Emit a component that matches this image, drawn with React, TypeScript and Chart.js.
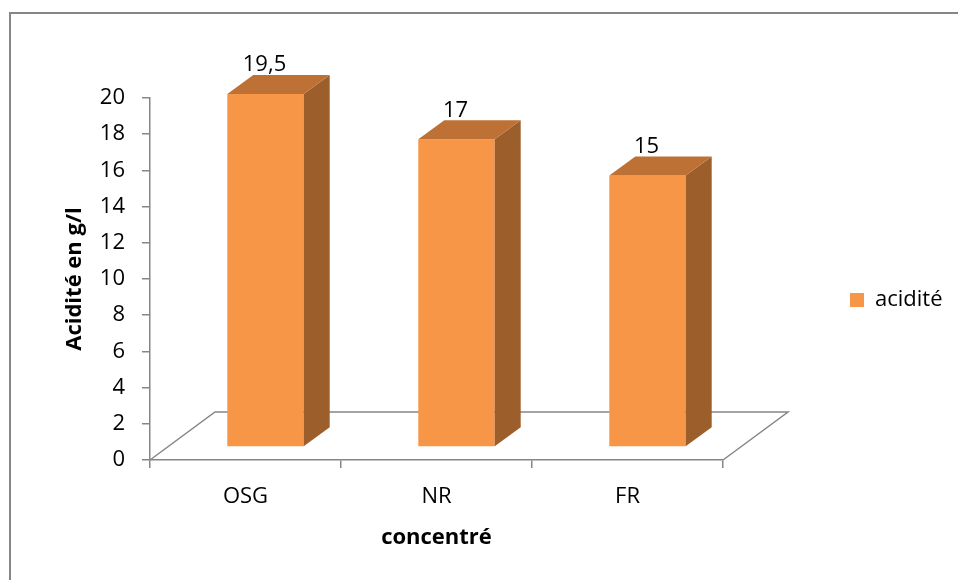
import { useEffect, useRef } from 'react';
import { Chart, registerables } from 'chart.js';

Chart.register(...registerables);

// ---- data ----
const categories = ['OSG', 'NR', 'FR'];
const aciditeValues = [19.5, 17, 15];
const seriesLabel = 'acidité';
const yAxisTitle = 'Acidité en g/l';
const xAxisTitle = 'concentré';
const yMin = 0;
const yMax = 20;
const yStep = 2;

// ---- style ----
const FRONT = '#F79646';
const TOP = '#BD7134';
const SIDE = '#9C5E2B';
const AXIS = '#868686';
const FONT = "'Open Sans', sans-serif";
const FONT_SIZE = 22;

const CANVAS_W = 958;
const CANVAS_H = 580;
const LEGEND_BOX_X = 850;
const LEGEND_BOX = 14;
const LEGEND_GAP = 127;

// 3D projection offsets, in pixels
const FLOOR_DEPTH = { dx: 65, dy: -48 };
const BAR_SHIFT = { dx: 20, dy: -13 };
const BAR_DEPTH = { dx: 26, dy: -19 };

const formatValue = (v: number) => String(v).replace('.', ',');

const depthPlugin = {
  id: 'depth3d',
  beforeDraw(chart: any) {
    const { ctx, width, height } = chart;
    ctx.save();
    ctx.strokeStyle = AXIS;
    ctx.lineWidth = 2;
    ctx.beginPath();
    ctx.moveTo(10, height);
    ctx.lineTo(10, 13);
    ctx.lineTo(width, 13);
    ctx.stroke();
    ctx.restore();
  },
  beforeDatasetsDraw(chart: any) {
    const { ctx } = chart;
    const { left, right, bottom } = chart.chartArea;
    // floor of the 3D plot
    ctx.save();
    ctx.strokeStyle = AXIS;
    ctx.lineWidth = 1.5;
    ctx.beginPath();
    ctx.moveTo(left, bottom);
    ctx.lineTo(left + FLOOR_DEPTH.dx, bottom + FLOOR_DEPTH.dy);
    ctx.lineTo(right + FLOOR_DEPTH.dx, bottom + FLOOR_DEPTH.dy);
    ctx.lineTo(right, bottom);
    ctx.stroke();
    ctx.restore();
    // bars sit partway into the depth of the floor
    ctx.save();
    ctx.translate(BAR_SHIFT.dx, BAR_SHIFT.dy);
  },
  afterDatasetsDraw(chart: any) {
    const { ctx } = chart;
    ctx.restore();
    const meta = chart.getDatasetMeta(0);
    const values = chart.data.datasets[0].data as number[];
    meta.data.forEach((bar: any, i: number) => {
      const { x, y, base, width } = bar.getProps(['x', 'y', 'base', 'width'], true);
      const xl = x - width / 2 + BAR_SHIFT.dx;
      const xr = x + width / 2 + BAR_SHIFT.dx;
      const yt = y + BAR_SHIFT.dy;
      const yb = base + BAR_SHIFT.dy;
      ctx.save();
      // side face
      ctx.fillStyle = SIDE;
      ctx.beginPath();
      ctx.moveTo(xr, yt);
      ctx.lineTo(xr + BAR_DEPTH.dx, yt + BAR_DEPTH.dy);
      ctx.lineTo(xr + BAR_DEPTH.dx, yb + BAR_DEPTH.dy);
      ctx.lineTo(xr, yb);
      ctx.closePath();
      ctx.fill();
      // top face
      ctx.fillStyle = TOP;
      ctx.beginPath();
      ctx.moveTo(xl, yt);
      ctx.lineTo(xl + BAR_DEPTH.dx, yt + BAR_DEPTH.dy);
      ctx.lineTo(xr + BAR_DEPTH.dx, yt + BAR_DEPTH.dy);
      ctx.lineTo(xr, yt);
      ctx.closePath();
      ctx.fill();
      // value label
      ctx.fillStyle = '#000';
      ctx.font = `${FONT_SIZE}px ${FONT}`;
      ctx.textAlign = 'center';
      ctx.textBaseline = 'middle';
      ctx.fillText(formatValue(values[i]), x + BAR_SHIFT.dx - 1, yt + BAR_DEPTH.dy - 10);
      ctx.restore();
    });
  },
};

export default function App() {
  const canvasRef = useRef<HTMLCanvasElement | null>(null);

  useEffect(() => {
    const canvas = canvasRef.current;
    if (!canvas) return;

    const chart = new Chart(canvas, {
      type: 'bar',
      data: {
        labels: categories,
        datasets: [
          {
            label: seriesLabel,
            data: aciditeValues,
            backgroundColor: FRONT,
            borderWidth: 0,
            categoryPercentage: 1,
            barPercentage: 0.4,
            clip: false as any,
          },
        ],
      },
      options: {
        responsive: false,
        animation: false,
        events: [],
        layout: { padding: { left: 0, top: 20, right: 20, bottom: 0 } },
        scales: {
          x: {
            grid: {
              display: true,
              drawOnChartArea: false,
              drawTicks: true,
              tickLength: 8,
              color: AXIS,
              lineWidth: 1.5,
              offset: true,
            },
            border: { display: true, color: AXIS, width: 1.5 },
            ticks: { color: '#000', font: { family: FONT, size: FONT_SIZE }, padding: 16 },
            title: {
              display: true,
              text: xAxisTitle,
              color: '#000',
              font: { family: FONT, size: FONT_SIZE, weight: 'bold' },
              padding: { top: 0, bottom: 29 },
            },
            afterFit: (scale: any) => {
              scale.height = 120;
            },
          },
          y: {
            min: yMin,
            max: yMax,
            grid: {
              display: true,
              drawOnChartArea: false,
              drawTicks: true,
              tickLength: 8,
              color: AXIS,
              lineWidth: 1.5,
            },
            border: { display: true, color: AXIS, width: 1.5 },
            ticks: {
              stepSize: yStep,
              color: '#000',
              font: { family: FONT, size: FONT_SIZE },
              padding: 17,
            },
            title: {
              display: true,
              text: yAxisTitle,
              color: '#000',
              font: { family: FONT, size: FONT_SIZE, weight: 'bold' },
              padding: { top: 62, bottom: 0 },
            },
            afterFit: (scale: any) => {
              scale.width = 150;
            },
          },
        },
        plugins: {
          // empty spacer above the plot area
          title: {
            display: true,
            text: '',
            fullSize: false,
            font: { size: 10 },
            padding: { top: 0, bottom: 66 },
          },
          legend: {
            position: 'right',
            labels: {
              boxWidth: LEGEND_BOX,
              boxHeight: LEGEND_BOX,
              padding: LEGEND_GAP,
              color: '#000',
              font: { family: FONT, size: FONT_SIZE },
            },
          },
          tooltip: { enabled: false },
        },
      },
      plugins: [depthPlugin],
    });

    // move the legend (and with it the plot's right edge) so its swatch sits at LEGEND_BOX_X
    const legend: any = chart.legend;
    if (legend) {
      const shift = legend.left + LEGEND_GAP - LEGEND_BOX_X;
      const pad: any = (chart.options.layout as any).padding;
      pad.right = Math.max(0, pad.right + shift);
      chart.update();
    }

    return () => chart.destroy();
  }, []);

  return (
    <div style={{ position: 'absolute', left: 0, top: 0, width: CANVAS_W, height: CANVAS_H, background: '#fff' }}>
      <canvas ref={canvasRef} width={CANVAS_W} height={CANVAS_H} />
    </div>
  );
}
